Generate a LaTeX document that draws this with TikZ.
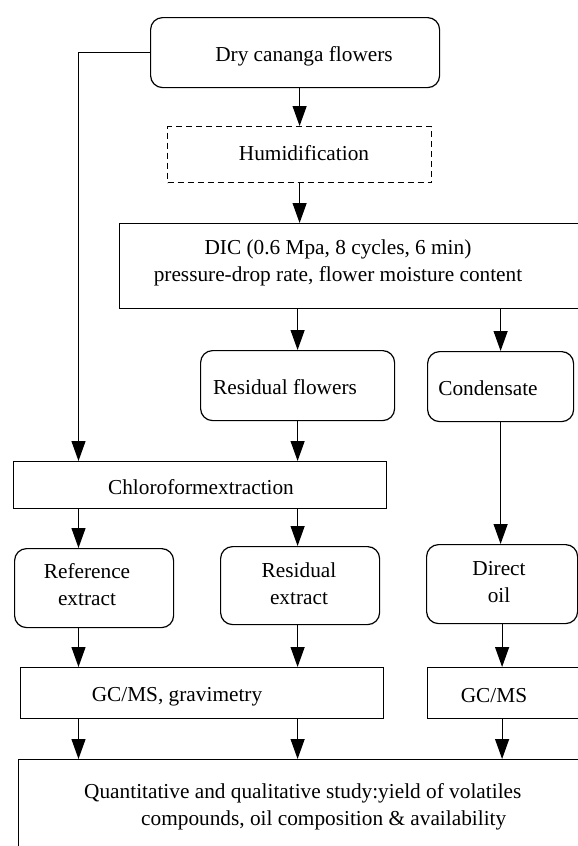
\documentclass[tikz,border=0pt]{standalone}
\usepackage{fontspec}
\setmainfont{Liberation Serif}
\usetikzlibrary{arrows.meta,calc}
\begin{document}
\begin{tikzpicture}[x=1pt,y=-1pt,
  every node/.style={font=\fontsize{21.3}{27}\selectfont},
  sbox/.style={draw,line width=1.2pt,inner sep=0pt,anchor=north west},
  rbox/.style={sbox,rounded corners=12pt},
  dbox/.style={sbox,dash pattern=on 6pt off 4pt},
  txt/.style={inner sep=0pt,align=center},
  arr/.style={line width=1.2pt,-{Triangle[length=20pt,width=14pt]}},
  ln/.style={line width=1.2pt}]
\useasboundingbox (0,0) rectangle (578,846);
\fill[white] (0,0) rectangle (578,846);
\clip (0,0) rectangle (578,846);
\coordinate (c1) at (78.5,0);
% boxes
\node[rbox,minimum width=289pt,minimum height=70pt] (dry) at (150,17) {};
\node[dbox,minimum width=264pt,minimum height=56pt] (hum) at (167,126) {};
\node[sbox,minimum width=500pt,minimum height=85pt] (dic) at (119,223) {};
\node[rbox,minimum width=194pt,minimum height=70pt] (resf) at (200,350) {};
\node[rbox,minimum width=146pt,minimum height=70pt] (cond) at (427,351) {};
\node[sbox,minimum width=373pt,minimum height=47pt] (chl) at (13,461) {};
\node[rbox,minimum width=159pt,minimum height=79pt] (ref) at (14,548) {};
\node[rbox,minimum width=159pt,minimum height=78pt] (resx) at (220,546) {};
\node[rbox,minimum width=151pt,minimum height=79pt] (oil) at (426,544) {};
\node[sbox,minimum width=363pt,minimum height=51pt] (gc1) at (20,667) {};
\node[sbox,minimum width=200pt,minimum height=51pt] (gc2) at (427,667) {};
\node[sbox,minimum width=600pt,minimum height=120pt] (fin) at (18,759) {};
% texts
\node[txt] (dryt) at (304,56) {Dry cananga flowers};
\node[txt] (humt) at (304,153) {Humidification};
\node[txt] (dict) at (338,262.5) {DIC (0.6 Mpa, 8 cycles, 6 min)\\pressure-drop rate, flower moisture content};
\node[txt] (resft) at (285,387) {Residual flowers};
\node[txt] (condt) at (488,388) {Condensate};
\node[txt] (chlt) at (201,487) {Chloroformextraction};
\node[txt] (reft) at (87,584.5) {Reference\\extract};
\node[txt] (resxt) at (299,584) {Residual\\extract};
\node[txt] (oilt) at (499,582) {Direct\\oil};
\node[txt] (gc1t) at (177,697) {GC/MS, gravimetry};
\node[txt] (gc2t) at (494,696) {GC/MS};
\node[txt,align=left,anchor=west] (fint) at (84,806.5) {Quantitative and qualitative study:yield of volatiles\\\hspace*{57pt}compounds, oil composition \& availability};
% connectors
\draw[arr] (dry.west) -| (chl.north -| c1);
\draw[arr] (hum.north |- dry.south) -- (hum.north);
\draw[arr] (hum.south) -- (hum.south |- dic.north);
\draw[arr] (resf.north |- dic.south) -- (resf.north);
\draw[arr] (cond.north |- dic.south) -- (cond.north);
\draw[arr] (resf.south) -- (resf.south |- chl.north);
\draw[arr] (chl.south -| c1) -- (ref.north -| c1);
\draw[arr] (chl.south -| resf.south) -- (resx.north -| resf.south);
\draw[arr] (cond.south) -- (cond.south |- oil.north);
\draw[arr] (ref.south -| c1) -- (gc1.north -| c1);
\draw[arr] (resx.south -| resf.south) -- (gc1.north -| resf.south);
\draw[arr] (oil.south) -- (oil.south |- gc2.north);
\draw[arr] (gc1.south -| c1) -- (fin.north -| c1);
\draw[arr] (gc1.south -| resf.south) -- (fin.north -| resf.south);
\draw[arr] (gc2.south -| oil.south) -- (fin.north -| oil.south);
\end{tikzpicture}
\end{document}
